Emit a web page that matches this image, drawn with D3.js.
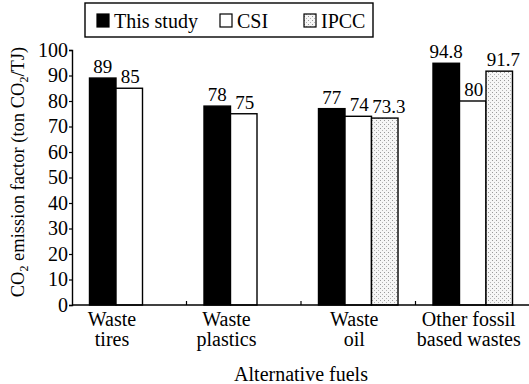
<!DOCTYPE html>
<html>
<head>
<meta charset="utf-8">
<script src="https://cdn.jsdelivr.net/npm/d3@7"></script>
<style>
  body { margin: 0; background: #fff; }
  svg text { font-family: "Liberation Serif", "DejaVu Serif", serif; fill: #000; }
</style>
</head>
<body>
<svg id="chart" width="529" height="384"></svg>
<script>
// data
const categories = [["Waste", "tires"], ["Waste", "plastics"], ["Waste", "oil"], ["Other fossil", "based wastes"]];
const seriesNames = ["This study", "CSI", "IPCC"];
const thisStudy = [89, 78, 77, 94.8];
const csi = [85, 75, 74, 80];
const ipcc = [null, null, 73.3, 91.7];
const valueLabels = [["89", "78", "77", "94.8"], ["85", "75", "74", "80"], [null, null, "73.3", "91.7"]];
const yTicks = [0, 10, 20, 30, 40, 50, 60, 70, 80, 90, 100];

const seriesValues = [thisStudy, csi, ipcc];
const margin = {top: 50, right: -1, bottom: 79, left: 72};
const width = 529, height = 384;

const svg = d3.select("#chart");

// stipple fill for IPCC bars
const pat = svg.append("defs").append("pattern")
    .attr("id", "stipple").attr("patternUnits", "userSpaceOnUse")
    .attr("width", 4).attr("height", 4);
pat.append("rect").attr("width", 4).attr("height", 4).attr("fill", "#f6f6f6");
pat.append("rect").attr("x", 0).attr("y", 0).attr("width", 1).attr("height", 1).attr("fill", "#999");
pat.append("rect").attr("x", 2).attr("y", 2).attr("width", 1).attr("height", 1).attr("fill", "#b4b4b4");

const fills = ["#000", "#fff", "url(#stipple)"];
const labelShift = [0, 1, 4];

const catKeys = categories.map(c => c.join(" "));
const x0 = d3.scaleBand().domain(catKeys)
    .range([margin.left, width - margin.right]).padding(0);
const x1 = d3.scaleBand().domain(seriesNames)
    .range([0, x0.bandwidth()]).paddingInner(0).paddingOuter(0.66);
const y = d3.scaleLinear().domain([0, 100]).range([height - margin.bottom, margin.top]);

const fontSize = 20;

// bars
const rows = [];
catKeys.forEach((k, i) => {
    seriesNames.forEach((s, j) => {
        const v = seriesValues[j][i];
        if (v != null) rows.push({cat: k, series: s, j: j, value: v, label: valueLabels[j][i]});
    });
});

svg.append("g").selectAll("rect").data(rows).enter().append("rect")
    .attr("x", d => x0(d.cat) + x1(d.series))
    .attr("y", d => y(d.value))
    .attr("width", x1.bandwidth())
    .attr("height", d => y(0) - y(d.value))
    .attr("fill", d => fills[d.j])
    .attr("stroke", "#000")
    .attr("stroke-width", 1.4);

svg.append("g").selectAll("text").data(rows).enter().append("text")
    .attr("x", d => x0(d.cat) + x1(d.series) + x1.bandwidth() / 2 + labelShift[d.j])
    .attr("y", d => y(d.value) - 5)
    .attr("text-anchor", "middle")
    .attr("font-size", 19)
    .text(d => d.label);

// y axis
const yAxis = svg.append("g").attr("transform", `translate(${margin.left},0)`)
    .call(d3.axisLeft(y).tickValues(yTicks).tickSize(3).tickPadding(1));
yAxis.select(".domain").attr("stroke", "#000").attr("stroke-width", 1.4);
yAxis.selectAll(".tick line").attr("stroke", "#000").attr("stroke-width", 1.2);
yAxis.selectAll(".tick text").attr("font-size", fontSize).attr("font-family", "Liberation Serif");

// x axis: ticks between groups, pointing inward
const xAxis = svg.append("g").attr("transform", `translate(0,${y(0)})`);
xAxis.append("line")
    .attr("x1", margin.left).attr("x2", width - margin.right)
    .attr("stroke", "#000").attr("stroke-width", 1.4);
xAxis.selectAll("line.tick").data(catKeys.slice(1)).enter().append("line")
    .attr("class", "tick")
    .attr("x1", d => x0(d)).attr("x2", d => x0(d))
    .attr("y1", 0).attr("y2", -4)
    .attr("stroke", "#000").attr("stroke-width", 1.2);

// category labels, centred on the bars present in each group
const labelG = svg.append("g");
categories.forEach((c, i) => {
    const k = catKeys[i];
    const present = seriesNames.filter((s, j) => seriesValues[j][i] != null);
    const left = x0(k) + x1(present[0]);
    const right = x0(k) + x1(present[present.length - 1]) + x1.bandwidth();
    const cx = (left + right) / 2 - 4;
    const t = labelG.append("text")
        .attr("x", cx).attr("y", y(0) + 21)
        .attr("text-anchor", "middle").attr("font-size", fontSize);
    c.forEach((line, li) => {
        t.append("tspan").attr("x", cx).attr("dy", li === 0 ? 0 : 20).text(line);
    });
});

// axis titles
svg.append("text")
    .attr("x", 301)
    .attr("y", 381)
    .attr("text-anchor", "middle")
    .attr("font-size", fontSize)
    .text("Alternative fuels");

const tSize = 18.5;
const yTitle = svg.append("text")
    .attr("transform", `translate(24,${172}) rotate(-90)`)
    .attr("text-anchor", "middle")
    .attr("font-size", tSize);
yTitle.append("tspan").text("CO");
yTitle.append("tspan").attr("font-size", tSize * 0.65).attr("dy", 4).text("2");
yTitle.append("tspan").attr("dy", -4).text(" emission factor (ton CO");
yTitle.append("tspan").attr("font-size", tSize * 0.65).attr("dy", 4).text("2");
yTitle.append("tspan").attr("dy", -4).text("/TJ)");

// legend
const legend = svg.append("g");
legend.append("rect")
    .attr("x", 85).attr("y", 3).attr("width", 288).attr("height", 34)
    .attr("fill", "#fff").attr("stroke", "#000").attr("stroke-width", 1.4);
const legendX = [97, 220, 304];
seriesNames.forEach((s, j) => {
    legend.append("rect")
        .attr("x", legendX[j]).attr("y", 14).attr("width", 12).attr("height", 13)
        .attr("fill", fills[j]).attr("stroke", "#000").attr("stroke-width", 1.2);
    legend.append("text")
        .attr("x", legendX[j] + 17).attr("y", 28)
        .attr("font-size", fontSize)
        .text(s);
});
</script>
</body>
</html>
